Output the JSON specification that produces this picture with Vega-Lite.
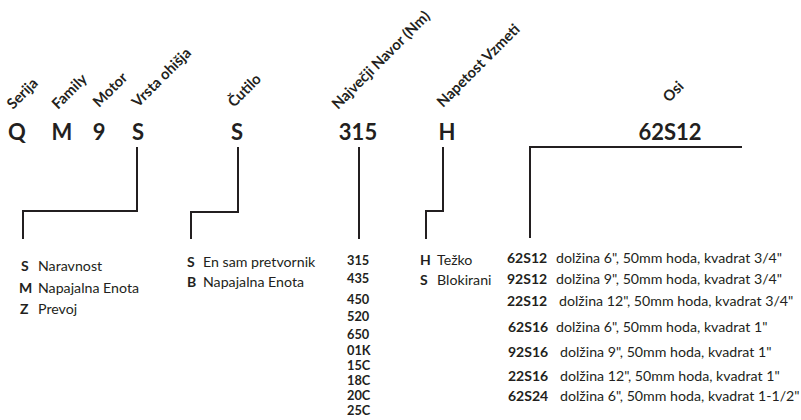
{
  "$schema": "https://vega.github.io/schema/vega-lite/v6.json",
  "width": 801,
  "height": 420,
  "autosize": {"type": "fit", "contains": "padding"},
  "padding": 0,
  "background": "white",
  "config": {"view": {"stroke": null}, "text": {"font": "Lato", "color": "#231f20"}},
  "encoding": {
    "x": {"field": "x", "type": "quantitative", "scale": {"domain": [0, 801], "nice": false, "zero": false}, "axis": null},
    "y": {"field": "y", "type": "quantitative", "scale": {"domain": [420, 0], "nice": false, "zero": false}, "axis": null}
  },
  "layer": [
    {
      "data": {"values": [
        {"path": "a", "o": 1, "x": 137, "y": 147}, {"path": "a", "o": 2, "x": 137, "y": 211}, {"path": "a", "o": 3, "x": 23, "y": 211}, {"path": "a", "o": 4, "x": 23, "y": 239},
        {"path": "b", "o": 1, "x": 238, "y": 147}, {"path": "b", "o": 2, "x": 238, "y": 212}, {"path": "b", "o": 3, "x": 191, "y": 212}, {"path": "b", "o": 4, "x": 191, "y": 239},
        {"path": "c", "o": 1, "x": 359, "y": 147}, {"path": "c", "o": 2, "x": 359, "y": 239},
        {"path": "d", "o": 1, "x": 443, "y": 147}, {"path": "d", "o": 2, "x": 443, "y": 211}, {"path": "d", "o": 3, "x": 426, "y": 211}, {"path": "d", "o": 4, "x": 426, "y": 239},
        {"path": "e", "o": 1, "x": 742, "y": 147}, {"path": "e", "o": 2, "x": 530, "y": 147}, {"path": "e", "o": 3, "x": 530, "y": 238}
      ]},
      "mark": {"type": "line", "stroke": "#231f20", "strokeWidth": 2, "strokeJoin": "miter", "strokeCap": "butt"},
      "encoding": {"detail": {"field": "path"}, "order": {"field": "o", "type": "quantitative"}}
    },
    {
      "data": {"values": [
        {"x": 17, "y": 140, "t": "Q"}, {"x": 62, "y": 140, "t": "M"}, {"x": 99, "y": 140, "t": "9"},
        {"x": 138, "y": 140, "t": "S"}, {"x": 237, "y": 140, "t": "S"}, {"x": 358, "y": 140, "t": "315"},
        {"x": 447, "y": 140, "t": "H"}, {"x": 670, "y": 140, "t": "62S12"}
      ]},
      "mark": {"type": "text", "fontSize": 22, "fontWeight": "bold", "align": "center", "baseline": "alphabetic"},
      "encoding": {"text": {"field": "t"}}
    },
    {
      "data": {"values": [
        {"x": 13, "y": 110, "t": "Serija"}, {"x": 58, "y": 110, "t": "Family"}, {"x": 99, "y": 108, "t": "Motor"},
        {"x": 138, "y": 108, "t": "Vrsta ohišja"}, {"x": 234, "y": 108, "t": "Čutilo"},
        {"x": 338, "y": 110, "t": "Največji Navor (Nm)"}, {"x": 443, "y": 108, "t": "Napetost Vzmeti"},
        {"x": 669, "y": 103, "t": "Osi"}
      ]},
      "mark": {"type": "text", "fontSize": 14.8, "fontWeight": "bold", "align": "left", "baseline": "alphabetic", "angle": 315},
      "encoding": {"text": {"field": "t"}}
    },
    {
      "data": {"values": [
        {"x": 21, "y": 271, "t": "S"}, {"x": 19, "y": 293, "t": "M"}, {"x": 20, "y": 314, "t": "Z"},
        {"x": 187, "y": 267, "t": "S"}, {"x": 187, "y": 287, "t": "B"},
        {"x": 420, "y": 265, "t": "H"}, {"x": 420, "y": 285, "t": "S"},
        {"x": 507, "y": 263, "t": "62S12"}, {"x": 507, "y": 284, "t": "92S12"}, {"x": 507, "y": 306, "t": "22S12"},
        {"x": 508, "y": 332, "t": "62S16"}, {"x": 508, "y": 357, "t": "92S16"}, {"x": 508, "y": 381, "t": "22S16"},
        {"x": 508, "y": 401, "t": "62S24"}
      ]},
      "mark": {"type": "text", "fontSize": 14, "fontWeight": "bold", "align": "left", "baseline": "alphabetic"},
      "encoding": {"text": {"field": "t"}}
    },
    {
      "data": {"values": [
        {"x": 347, "y": 265, "t": "315"}, {"x": 347, "y": 283, "t": "435"}, {"x": 347, "y": 304, "t": "450"},
        {"x": 347, "y": 321, "t": "520"}, {"x": 347, "y": 339, "t": "650"}, {"x": 347, "y": 355, "t": "01K"},
        {"x": 347, "y": 370, "t": "15C"}, {"x": 347, "y": 385, "t": "18C"}, {"x": 347, "y": 400, "t": "20C"},
        {"x": 347, "y": 415, "t": "25C"}
      ]},
      "mark": {"type": "text", "fontSize": 12.8, "fontWeight": "bold", "align": "left", "baseline": "alphabetic"},
      "encoding": {"text": {"field": "t"}}
    },
    {
      "data": {"values": [
        {"x": 38, "y": 271, "t": "Naravnost"}, {"x": 38, "y": 293, "t": "Napajalna Enota"}, {"x": 38, "y": 314, "t": "Prevoj"},
        {"x": 203, "y": 267, "t": "En sam pretvornik"}, {"x": 203, "y": 287, "t": "Napajalna Enota"},
        {"x": 437, "y": 265, "t": "Težko"}, {"x": 437, "y": 285, "t": "Blokirani"},
        {"x": 556, "y": 263, "t": "dolžina 6\", 50mm hoda, kvadrat 3/4\""},
        {"x": 556, "y": 284, "t": "dolžina 9\", 50mm hoda, kvadrat 3/4\""},
        {"x": 559, "y": 306, "t": "dolžina 12\", 50mm hoda, kvadrat 3/4\""},
        {"x": 556, "y": 332, "t": "dolžina 6\", 50mm hoda, kvadrat 1\""},
        {"x": 560, "y": 357, "t": "dolžina 9\", 50mm hoda, kvadrat 1\""},
        {"x": 560, "y": 381, "t": "dolžina 12\", 50mm hoda, kvadrat 1\""},
        {"x": 560, "y": 401, "t": "dolžina 6\", 50mm hoda, kvadrat 1-1/2\""}
      ]},
      "mark": {"type": "text", "fontSize": 14.2, "align": "left", "baseline": "alphabetic"},
      "encoding": {"text": {"field": "t"}}
    }
  ]
}
